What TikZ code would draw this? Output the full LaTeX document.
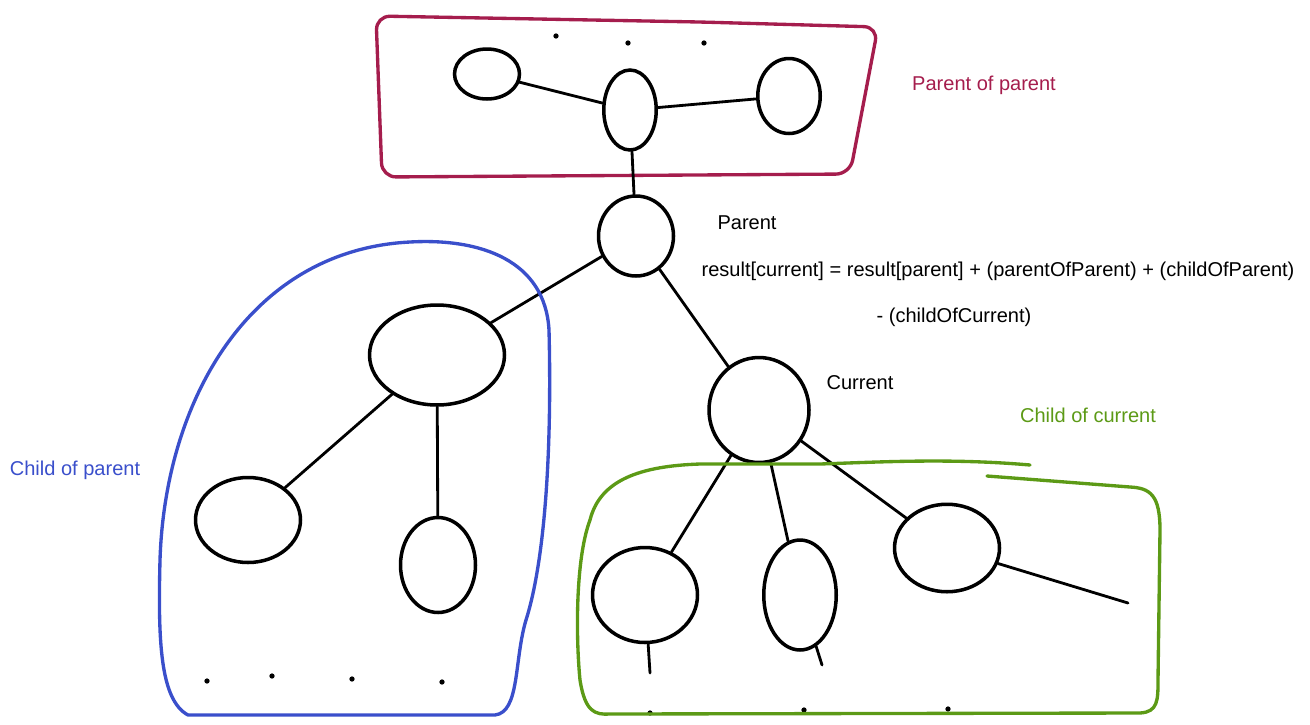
\documentclass[tikz,border=0pt]{standalone}
\usepackage{fontspec}
\setmainfont{Liberation Sans}
\usetikzlibrary{shapes.geometric}
\definecolor{ppcol}{HTML}{A51D4D}
\definecolor{cpcol}{HTML}{3A4FCB}
\definecolor{cccol}{HTML}{5C9A16}
\tikzset{nd/.style={ellipse,draw,line width=2pt,inner sep=0pt},
  edge/.style={line width=1.6pt,line cap=round},
  region/.style={line width=1.9pt,line join=round,line cap=round},
  lbl/.style={font=\fontsize{11.4}{13}\selectfont,inner sep=0pt},
  dot/.style={circle,fill,inner sep=0pt,minimum size=3pt}}

\begin{document}
\begin{tikzpicture}[x=0.02cm,y=-0.02cm]
  \useasboundingbox (0,0) rectangle (1310,724);
  % parent of parent
  \node[nd,minimum width=1.05cm,minimum height=1.6cm] (gp) at (630,110) {};
  \node[nd,minimum width=1.3cm,minimum height=1.0cm] (gpl) at (487,74) {};
  \node[nd,minimum width=1.25cm,minimum height=1.5cm] (gpr) at (789,96) {};
  \node[dot] (d1) at (556,36) {};
  \node[dot] (d2) at (628,43) {};
  \node[dot] (d3) at (704,43) {};
  \draw[edge] (gp) -- (gpl);
  \draw[edge] (gp) -- (gpr);
  \draw[region,ppcol,rounded corners=8pt] (376,16) -- (700,22) -- (878,27) -- (850,174) -- (382,177) -- cycle;
  \node[lbl,ppcol] (ppl) at (984,85) {Parent of parent};
  % parent
  \node[nd,minimum width=1.5cm,minimum height=1.6cm] (par) at (636,236) {};
  \node[lbl] (parl) at (747,223) {Parent};
  \draw[edge] (gp) -- (par);
  \node[lbl] (eq1) at (998,271) {result[current] = result[parent] + (parentOfParent) + (childOfParent)};
  \node[lbl] (eq2) at (954,317) {- (childOfCurrent)};
  % child of parent
  \node[nd,minimum width=2.7cm,minimum height=2.0cm] (cp) at (437,355) {};
  \node[nd,minimum width=2.1cm,minimum height=1.7cm] (cpl) at (248,520) {};
  \node[nd,minimum width=1.5cm,minimum height=1.9cm] (cpr) at (438,565) {};
  \draw[edge] (par) -- (cp);
  \draw[edge] (cp) -- (cpl);
  \draw[edge] (cp) -- (cpr);
  \node[dot] (d4) at (207,681) {};
  \node[dot] (d5) at (272,676) {};
  \node[dot] (d6) at (352,679) {};
  \node[dot] (d7) at (442,682) {};
  \draw[region,cpcol] (188,715) .. controls (160,700) and (158,640) .. (160,560)
    .. controls (165,400) and (250,250) .. (410,242)
    .. controls (480,238) and (545,260) .. (549,330)
    .. controls (552,450) and (545,560) .. (526,620)
    .. controls (514,660) and (520,712) .. (495,715) -- cycle;
  \node[lbl,cpcol] (cpll) at (75,470) {Child of parent};
  % current
  \node[nd,minimum width=2.0cm,minimum height=2.1cm] (cur) at (759,410) {};
  \node[lbl] (curl) at (860,383) {Current};
  \draw[edge] (par) -- (cur);
  % child of current
  \node[nd,minimum width=2.1cm,minimum height=1.9cm] (c1) at (645,595) {};
  \node[nd,minimum width=1.45cm,minimum height=2.2cm] (c2) at (800,595) {};
  \node[nd,minimum width=2.1cm,minimum height=1.75cm] (c3) at (947,548) {};
  \coordinate (e1) at (650,673);
  \coordinate (e2) at (822,665);
  \coordinate (e3) at (1128,603);
  \draw[edge] (cur) -- (c1);
  \draw[edge] (cur) -- (c2);
  \draw[edge] (cur) -- (c3);
  \draw[edge] (c1) -- (e1);
  \draw[edge] (c2) -- (e2);
  \draw[edge] (c3) -- (e3);
  \node[dot] (d8) at (650,713) {};
  \node[dot] (d9) at (804,710) {};
  \node[dot] (d10) at (948,709) {};
  \draw[region,cccol] (1030,465) .. controls (950,458) and (880,462) .. (820,464)
    -- (700,464) .. controls (640,466) and (600,480) .. (590,520)
    .. controls (575,560) and (576,640) .. (580,680)
    .. controls (585,712) and (595,715) .. (610,714) -- (1140,713)
    .. controls (1158,712) and (1158,700) .. (1158,680) -- (1160,530)
    .. controls (1160,495) and (1150,488) .. (1130,487) -- (987,476);
  \node[lbl,cccol] (ccl) at (1088,415) {Child of current};
\end{tikzpicture}
\end{document}
